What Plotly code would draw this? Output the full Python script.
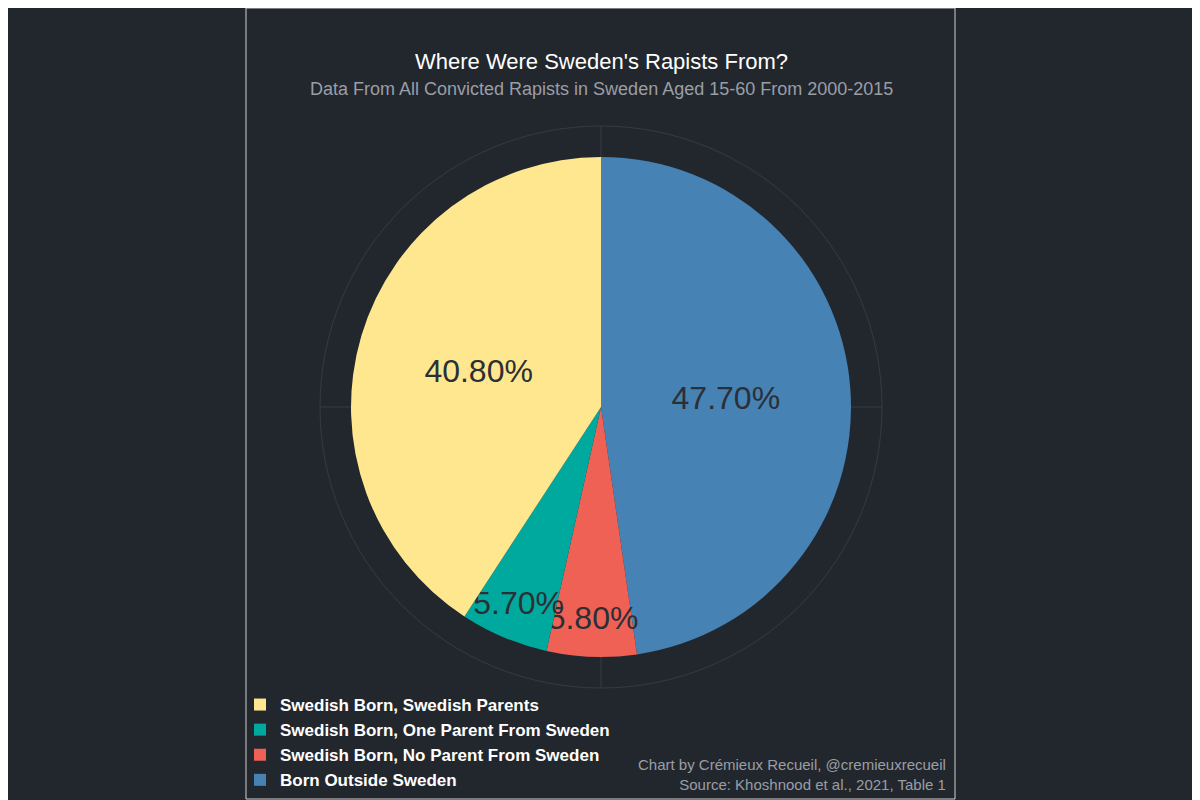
import plotly.graph_objects as go

labels = ["Swedish Born, Swedish Parents", "Swedish Born, One Parent From Sweden",
          "Swedish Born, No Parent From Sweden", "Born Outside Sweden"]
values = [40.8, 5.7, 5.8, 47.7]
text_labels = ["40.80%", "5.70%", "5.80%", "47.70%"]
colors = ["#FFE78F", "#00A99D", "#EF6155", "#4682B4"]

W, H = 1200, 800
bg = "#22272e"
OFF = 8
def px(x): return (x - OFF) / W
def py(y): return 1 - (y - OFF) / H

fig = go.Figure(go.Pie(
    labels=labels, values=values, text=text_labels, textinfo="text",
    sort=False, direction="counterclockwise", rotation=0,
    marker=dict(colors=colors, line=dict(width=0)),
    textposition="inside", insidetextorientation="horizontal",
    textfont=dict(size=32, color="#2b2f36", family="Liberation Sans"),
    domain=dict(x=[px(351), px(851)], y=[py(657), py(157)]),
    hoverinfo="label+percent",
))
grid = "#363b43"
fig.update_layout(
    width=W, height=H, paper_bgcolor=bg, plot_bgcolor=bg,
    margin=dict(l=0, r=0, t=0, b=0),
    uniformtext=dict(minsize=32, mode="show"),
    font=dict(family="Liberation Sans", color="white"),
    shapes=[
        dict(type="circle", xref="paper", yref="paper", x0=px(320), x1=px(882), y0=py(688), y1=py(126),
             line=dict(color=grid, width=1), layer="below"),
        dict(type="line", xref="paper", yref="paper", x0=px(601), x1=px(601), y0=py(688), y1=py(126),
             line=dict(color=grid, width=1), layer="below"),
        dict(type="line", xref="paper", yref="paper", x0=px(320), x1=px(882), y0=py(407), y1=py(407),
             line=dict(color=grid, width=1), layer="below"),
        dict(type="rect", xref="paper", yref="paper", x0=px(246), x1=px(955), y0=py(799), y1=py(8),
             line=dict(color="#d0d0d0", width=1)),
    ],
    annotations=[
        dict(text="Where Were Sweden's Rapists From?", x=px(601), y=py(47), xref="paper", yref="paper",
             showarrow=False, font=dict(size=22, color="white")),
        dict(text="Data From All Convicted Rapists in Sweden Aged 15-60 From 2000-2015", x=px(601), y=py(77),
             xref="paper", yref="paper", showarrow=False, font=dict(size=18, color="#9a9ea5")),
        dict(text="Chart by Crémieux Recueil, @cremieuxrecueil<br>Source: Khoshnood et al., 2021, Table 1",
             x=px(948), y=py(795), xref="paper", yref="paper", xanchor="right", yanchor="bottom",
             align="right", showarrow=False, font=dict(size=15, color="#9a9ea5")),
    ],
    legend=dict(x=px(240), y=py(798), xanchor="left", yanchor="bottom", bgcolor="rgba(0,0,0,0)",
                font=dict(size=17, color="white", family="Liberation Sans", weight="bold"),
                tracegroupgap=0, itemsizing="constant", itemwidth=30),
)
fig.data[0].direction = "clockwise"
fig.data[0].labels = labels[::-1]
fig.data[0].values = values[::-1]
fig.data[0].text = text_labels[::-1]
fig.data[0].marker.colors = colors[::-1]
fig.update_layout(legend_traceorder="reversed")
fig.write_html("out.html")
